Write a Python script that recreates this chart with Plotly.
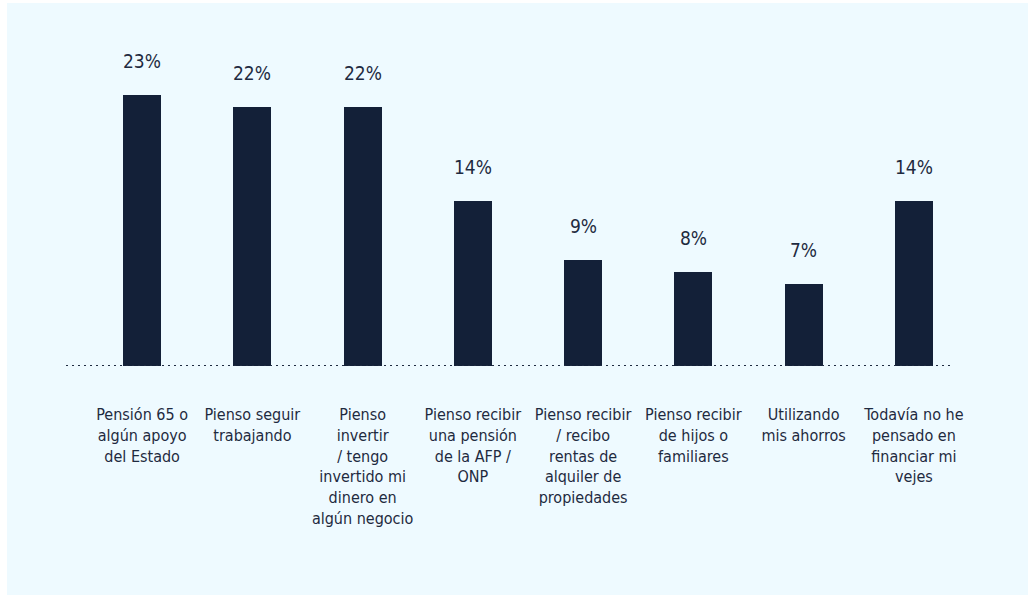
import plotly.graph_objects as go

# Survey results: how people plan to finance old age
categories = [
    "Pensión 65 o<br>algún apoyo<br>del Estado",
    "Pienso seguir<br>trabajando",
    "Pienso<br>invertir<br>/ tengo<br>invertido mi<br>dinero en<br>algún negocio",
    "Pienso recibir<br>una pensión<br>de la AFP /<br>ONP",
    "Pienso recibir<br>/ recibo<br>rentas de<br>alquiler de<br>propiedades",
    "Pienso recibir<br>de hijos o<br>familiares",
    "Utilizando<br>mis ahorros",
    "Todavía no he<br>pensado en<br>financiar mi<br>vejes",
]
values = [23, 22, 22, 14, 9, 8, 7, 14]

BG = "#eefaff"
BAR = "#132038"
TEXT = "#1e2a40"
FONT = "DejaVu Sans Condensed, Liberation Sans Narrow, DejaVu Sans, sans-serif"

x_idx = list(range(len(categories)))

fig = go.Figure()
fig.add_trace(go.Bar(
    x=x_idx,
    y=values,
    width=0.345,
    marker=dict(color=BAR, line=dict(width=0)),
    hoverinfo="skip",
))

# value labels above each bar
for i, v in zip(x_idx, values):
    fig.add_annotation(
        x=i, y=v, text=f"{v}%", showarrow=False,
        yanchor="bottom", yshift=21,
        font=dict(family=FONT, size=19, color=TEXT),
    )

# dotted baseline (paper x so it can run past the plot area on the left)
fig.add_shape(
    type="line", xref="paper", yref="y",
    x0=(66 - 87) / 882, x1=(951 - 87) / 882, y0=0, y1=0,
    line=dict(color=TEXT, width=2, dash="2px,4px"),
    layer="above",
)

# white strip framing the panel on top and left
fig.add_shape(type="rect", xref="paper", yref="paper",
              x0=-0.2, x1=1.2, y0=(366 - 3) / 306, y1=2,
              fillcolor="white", line=dict(width=0), layer="below")
fig.add_shape(type="rect", xref="paper", yref="paper",
              x0=-1, x1=-(87 - 7) / 882, y0=-2, y1=2,
              fillcolor="white", line=dict(width=0), layer="below")

fig.update_layout(
    width=1028, height=595,
    margin=dict(l=87, r=1028 - 87 - 882, t=60, b=595 - 366),
    paper_bgcolor=BG, plot_bgcolor=BG,
    showlegend=False,
    bargap=0,
    xaxis=dict(
        range=[-0.5, 7.5],
        tickmode="array", tickvals=x_idx, ticktext=categories,
        tickangle=0,
        showgrid=False, zeroline=False, showline=False,
        ticks="", ticklabelstandoff=37,
        tickfont=dict(family=FONT, size=16, color=TEXT),
        fixedrange=True,
    ),
    yaxis=dict(
        range=[0, 26], visible=False, showgrid=False, zeroline=False,
        fixedrange=True,
    ),
)

fig.write_html("out.html")
